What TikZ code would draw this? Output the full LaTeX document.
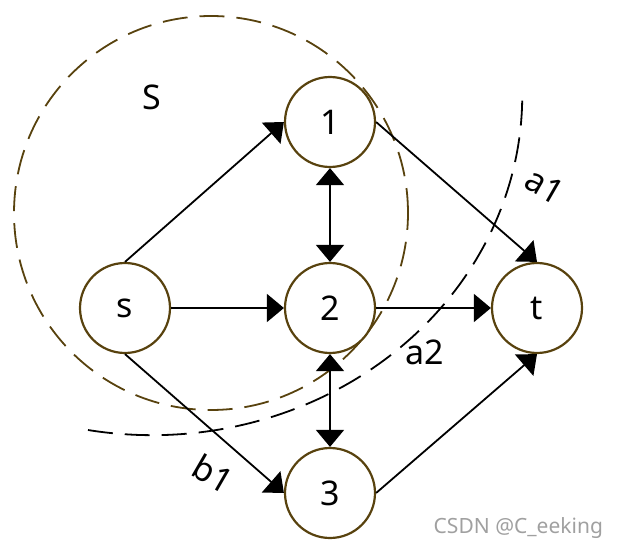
\documentclass[tikz,border=0pt]{standalone}
\usepackage{fontspec}
\setmainfont{Noto Sans}
\usetikzlibrary{arrows.meta,positioning}
\definecolor{rim}{RGB}{88,66,14}
\definecolor{mark}{RGB}{160,160,160}
\tikzset{
  vtx/.style={circle,draw=rim,line width=1.1pt,minimum size=45pt,inner sep=0pt,
    font=\fontsize{17}{20}\selectfont},
  arr/.style={-{Triangle[length=8.5pt,width=14pt]},line width=0.9pt},
  dbl/.style={{Triangle[length=8.5pt,width=14pt]}-{Triangle[length=8.5pt,width=14pt]},line width=0.9pt},
  cut/.style={dash pattern=on 12.5pt off 6pt,line width=0.9pt},
  lbl/.style={font=\fontsize{17}{20}\selectfont},
}
\begin{document}
\begin{tikzpicture}[x=0.5pt,y=-0.5pt]
  \useasboundingbox (0,0) rectangle (621,551);
  % vertices
  \node[vtx] (s) at (125,308) {s};
  \node[vtx] (n1) at (330,122) {1};
  \node[vtx] (n2) at (330,308) {2};
  \node[vtx] (n3) at (330,493) {3};
  \node[vtx] (t) at (537,308) {t};
  % the set S and the two cuts
  \draw[cut,rim] (211,213) circle[radius=98.5pt];
  \draw[cut] (88,430) arc[start angle=-100,end angle=0,x radius=185pt,y radius=170pt];
  \node[lbl] (capS) at (152,97) {S};
  \node[lbl,rotate=-30] (a1) at (545,186) {a1};
  \node[lbl] (a2) at (425,352) {a2};
  \node[lbl,rotate=-30] (b1) at (213,474) {b1};
  % arcs
  \draw[arr] (s.north) -- (n1.west);
  \draw[arr] (s.east) -- (n2.west);
  \draw[arr] (s.south) -- (n3.west);
  \draw[arr] (n1.east) -- (t.north);
  \draw[arr] (n2.east) -- (t.west);
  \draw[arr] (n3.east) -- (t.south);
  \draw[dbl] (n1.south) -- (n2.north);
  \draw[dbl] (n2.south) -- (n3.north);
  \node[font=\fontsize{10.5}{12}\selectfont,text=mark,anchor=east] (wm) at (610,528) {CSDN @C\_eeking};
\end{tikzpicture}
\end{document}
